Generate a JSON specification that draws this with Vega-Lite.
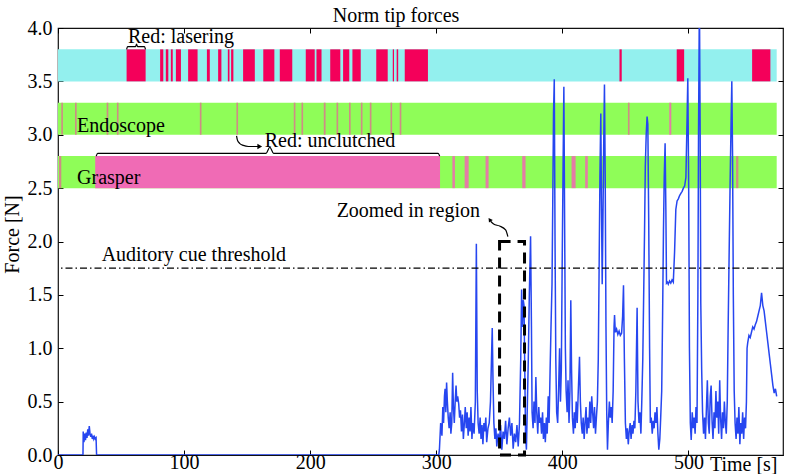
{
  "$schema": "https://vega.github.io/schema/vega-lite/v6.json",
  "width": 725,
  "height": 427,
  "autosize": {"type": "none"},
  "padding": {"left": 58, "top": 28, "right": 3, "bottom": 19},
  "background": "white",
  "config": {"view": {"stroke": "#111", "strokeWidth": 1.2}, "font": "Liberation Serif"},
  "datasets": {
    "segs": [
      {"s": 0, "e": 570, "lo": 3.5, "hi": 3.8, "k": "cyan"},
      {"s": 0, "e": 570, "lo": 3.0, "hi": 3.3, "k": "green"},
      {"s": 0, "e": 570, "lo": 2.5, "hi": 2.8, "k": "green"},
      {"s": 54.4, "e": 69.5, "lo": 3.5, "hi": 3.8, "k": "red"},
      {"s": 81, "e": 83.5, "lo": 3.5, "hi": 3.8, "k": "red"},
      {"s": 85.5, "e": 87.5, "lo": 3.5, "hi": 3.8, "k": "red"},
      {"s": 89.5, "e": 91, "lo": 3.5, "hi": 3.8, "k": "red"},
      {"s": 93.5, "e": 97.5, "lo": 3.5, "hi": 3.8, "k": "red"},
      {"s": 103.2, "e": 110.7, "lo": 3.5, "hi": 3.8, "k": "red"},
      {"s": 118.1, "e": 120.4, "lo": 3.5, "hi": 3.8, "k": "red"},
      {"s": 127, "e": 129.6, "lo": 3.5, "hi": 3.8, "k": "red"},
      {"s": 134.7, "e": 136, "lo": 3.5, "hi": 3.8, "k": "red"},
      {"s": 137.3, "e": 139.1, "lo": 3.5, "hi": 3.8, "k": "red"},
      {"s": 146.8, "e": 156.1, "lo": 3.5, "hi": 3.8, "k": "red"},
      {"s": 162.8, "e": 171.6, "lo": 3.5, "hi": 3.8, "k": "red"},
      {"s": 175.9, "e": 185.8, "lo": 3.5, "hi": 3.8, "k": "red"},
      {"s": 196.5, "e": 203.6, "lo": 3.5, "hi": 3.8, "k": "red"},
      {"s": 205, "e": 209, "lo": 3.5, "hi": 3.8, "k": "red"},
      {"s": 215.9, "e": 223.9, "lo": 3.5, "hi": 3.8, "k": "red"},
      {"s": 226.1, "e": 231, "lo": 3.5, "hi": 3.8, "k": "red"},
      {"s": 233.5, "e": 240.1, "lo": 3.5, "hi": 3.8, "k": "red"},
      {"s": 252.4, "e": 261.5, "lo": 3.5, "hi": 3.8, "k": "red"},
      {"s": 265.5, "e": 266.5, "lo": 3.5, "hi": 3.8, "k": "red"},
      {"s": 268.6, "e": 269.8, "lo": 3.5, "hi": 3.8, "k": "red"},
      {"s": 275, "e": 293.4, "lo": 3.5, "hi": 3.8, "k": "red"},
      {"s": 445.3, "e": 447.1, "lo": 3.5, "hi": 3.8, "k": "red"},
      {"s": 490.7, "e": 496.6, "lo": 3.5, "hi": 3.8, "k": "red"},
      {"s": 550.5, "e": 565, "lo": 3.5, "hi": 3.8, "k": "red"},
      {"s": 2.6, "e": 3.9, "lo": 3.0, "hi": 3.3, "k": "endo"},
      {"s": 13.5, "e": 14.8, "lo": 3.0, "hi": 3.3, "k": "endo"},
      {"s": 38.6, "e": 39.9, "lo": 3.0, "hi": 3.3, "k": "endo"},
      {"s": 46.7, "e": 48.0, "lo": 3.0, "hi": 3.3, "k": "endo"},
      {"s": 112.5, "e": 113.8, "lo": 3.0, "hi": 3.3, "k": "endo"},
      {"s": 141.5, "e": 142.8, "lo": 3.0, "hi": 3.3, "k": "endo"},
      {"s": 187.0, "e": 188.3, "lo": 3.0, "hi": 3.3, "k": "endo"},
      {"s": 193.1, "e": 194.4, "lo": 3.0, "hi": 3.3, "k": "endo"},
      {"s": 210.8, "e": 212.2, "lo": 3.0, "hi": 3.3, "k": "endo"},
      {"s": 220.9, "e": 222.2, "lo": 3.0, "hi": 3.3, "k": "endo"},
      {"s": 230.8, "e": 232.1, "lo": 3.0, "hi": 3.3, "k": "endo"},
      {"s": 240.2, "e": 241.5, "lo": 3.0, "hi": 3.3, "k": "endo"},
      {"s": 247.3, "e": 248.6, "lo": 3.0, "hi": 3.3, "k": "endo"},
      {"s": 263.7, "e": 265.0, "lo": 3.0, "hi": 3.3, "k": "endo"},
      {"s": 271.0, "e": 272.3, "lo": 3.0, "hi": 3.3, "k": "endo"},
      {"s": 452.0, "e": 453.3, "lo": 3.0, "hi": 3.3, "k": "endo"},
      {"s": 484.8, "e": 486.4, "lo": 3.0, "hi": 3.3, "k": "pinkthin"},
      {"s": 0.8, "e": 2.6, "lo": 2.5, "hi": 2.8, "k": "endo"},
      {"s": 29.5, "e": 303, "lo": 2.5, "hi": 2.8, "k": "pink"},
      {"s": 312.8, "e": 314.8, "lo": 2.5, "hi": 2.8, "k": "pinkthin"},
      {"s": 322.5, "e": 325.7, "lo": 2.5, "hi": 2.8, "k": "pinkthin"},
      {"s": 339.1, "e": 341.5, "lo": 2.5, "hi": 2.8, "k": "pinkthin"},
      {"s": 368.2, "e": 370.8, "lo": 2.5, "hi": 2.8, "k": "pinkthin"},
      {"s": 407.3, "e": 410.5, "lo": 2.5, "hi": 2.8, "k": "pinkthin"},
      {"s": 418.1, "e": 420.2, "lo": 2.5, "hi": 2.8, "k": "pinkthin"},
      {"s": 537.8, "e": 539.6, "lo": 2.5, "hi": 2.8, "k": "endo"}
    ],
    "force": [
      {"t":0,"f":0},{"t":19.8,"f":0},{"t":20,"f":0.22},{"t":20.6,"f":0.12},{"t":21.2,"f":0.2},{"t":21.8,"f":0.14},{"t":22.4,"f":0.21},{"t":23,"f":0.16},{"t":23.6,"f":0.24},{"t":24.2,"f":0.18},{"t":24.8,"f":0.27},{"t":25.4,"f":0.2},{"t":26,"f":0.17},{"t":26.6,"f":0.2},{"t":27.2,"f":0.15},{"t":27.8,"f":0.18},{"t":28.4,"f":0.15},{"t":29,"f":0.17},{"t":29.6,"f":0.15},{"t":30.2,"f":0.16},{"t":30.6,"f":0},{"t":302,"f":0},
      {"t":302.5,"f":0.05},{"t":303.5,"f":0.3},{"t":304.5,"f":0.18},{"t":305.2,"f":0.45},{"t":305.8,"f":0.3},{"t":306.5,"f":0.55},{"t":307,"f":0.62},{"t":307.6,"f":0.4},{"t":308.2,"f":0.68},{"t":308.8,"f":0.5},{"t":309.5,"f":0.35},{"t":310.2,"f":0.25},{"t":311,"f":0.4},{"t":311.6,"f":0.2},{"t":312.3,"f":0.3},{"t":313,"f":0.77},{"t":313.6,"f":0.45},{"t":314.3,"f":0.3},{"t":315,"f":0.5},{"t":315.7,"f":0.65},{"t":316.3,"f":0.5},{"t":317,"f":0.55},{"t":317.8,"f":0.48},{"t":318.5,"f":0.35},{"t":319.2,"f":0.42},{"t":320,"f":0.22},{"t":320.8,"f":0.38},{"t":321.5,"f":0.15},{"t":322.3,"f":0.3},{"t":323,"f":0.45},{"t":323.8,"f":0.25},{"t":324.5,"f":0.4},{"t":325.3,"f":0.18},{"t":326,"f":0.35},{"t":326.8,"f":0.22},{"t":327.5,"f":0.45},{"t":328.3,"f":0.15},{"t":329,"f":0.3},{"t":330,"f":0.2},{"t":331,"f":0.5},{"t":331.8,"f":1.98},{"t":332.5,"f":0.6},{"t":333.2,"f":0.3},{"t":334,"f":0.2},{"t":334.8,"f":0.35},{"t":335.5,"f":0.15},{"t":336.3,"f":0.28},{"t":337,"f":0.1},{"t":337.8,"f":0.3},{"t":338.5,"f":0.22},{"t":339.3,"f":0.35},{"t":340,"f":0.12},{"t":341,"f":0.25},{"t":342,"f":0.3},{"t":343,"f":0.5},{"t":343.8,"f":0.9},{"t":344.4,"f":1.19},{"t":345,"f":0.7},{"t":345.7,"f":0.3},{"t":346.5,"f":0.15},{"t":347.3,"f":0.25},{"t":348,"f":0.08},{"t":349,"f":0.2},{"t":350,"f":0.12},{"t":351,"f":0.28},{"t":352,"f":0.05},{"t":353,"f":0.22},{"t":354,"f":0.15},{"t":355,"f":0.32},{"t":356,"f":0.1},{"t":357,"f":0.25},{"t":358,"f":0.35},{"t":359,"f":0.18},{"t":360,"f":0.3},{"t":361,"f":0.06},{"t":362,"f":0.2},{"t":363,"f":0.12},{"t":364,"f":0.28},{"t":365,"f":0.08},{"t":366,"f":0.3},{"t":367,"f":0.9},{"t":367.7,"f":1.55},{"t":368.3,"f":1.2},{"t":369,"f":1.45},{"t":369.6,"f":1.4},{"t":370.2,"f":0.8},{"t":370.8,"f":0.2},{"t":371.5,"f":0.05},{"t":372.3,"f":0.5},{"t":373,"f":0.9},{"t":373.8,"f":1.5},{"t":374.8,"f":2.05},{"t":375.5,"f":1.2},{"t":376,"f":0.4},{"t":376.8,"f":0.25},{"t":377.5,"f":0.5},{"t":378.3,"f":0.3},{"t":379,"f":0.73},{"t":379.7,"f":0.4},{"t":380.5,"f":0.2},{"t":381.3,"f":0.45},{"t":382,"f":0.3},{"t":382.8,"f":0.35},{"t":383.5,"f":0.2},{"t":384.3,"f":0.4},{"t":385,"f":0.15},{"t":385.8,"f":0.3},{"t":386.5,"f":0.12},{"t":387.3,"f":0.35},{"t":388,"f":0.2},{"t":388.8,"f":0.55},{"t":389.5,"f":0.3},{"t":390.3,"f":0.8},{"t":391,"f":1.2},{"t":391.8,"f":1.6},{"t":392.5,"f":2.5},{"t":393,"f":3.2},{"t":393.6,"f":3.52},{"t":394.2,"f":2.0},{"t":394.8,"f":0.9},{"t":395.5,"f":0.4},{"t":396.3,"f":0.3},{"t":397,"f":0.6},{"t":397.8,"f":1.0},{"t":398.5,"f":0.5},{"t":399.2,"f":0.8},{"t":399.8,"f":1.7},{"t":400.5,"f":2.6},{"t":401.2,"f":3.45},{"t":401.8,"f":2.2},{"t":402.4,"f":1.0},{"t":403,"f":0.6},{"t":403.8,"f":0.4},{"t":404.5,"f":0.7},{"t":405.3,"f":0.3},{"t":406,"f":0.6},{"t":406.7,"f":1.45},{"t":407.3,"f":0.8},{"t":408,"f":0.35},{"t":408.8,"f":0.2},{"t":409.5,"f":0.4},{"t":410.2,"f":0.25},{"t":411,"f":0.5},{"t":411.8,"f":0.3},{"t":412.5,"f":0.55},{"t":413.6,"f":0.92},{"t":414.3,"f":0.5},{"t":415,"f":0.3},{"t":415.8,"f":0.2},{"t":416.5,"f":0.35},{"t":417.3,"f":0.15},{"t":418,"f":0.3},{"t":418.8,"f":0.45},{"t":419.5,"f":0.2},{"t":420.3,"f":0.35},{"t":421,"f":0.25},{"t":421.8,"f":0.5},{"t":422.5,"f":0.3},{"t":423.3,"f":0.55},{"t":424,"f":0.4},{"t":424.8,"f":0.25},{"t":425.5,"f":0.45},{"t":426.3,"f":0.2},{"t":427,"f":0.35},{"t":427.8,"f":0.5},{"t":428.5,"f":0.9},{"t":429.2,"f":1.8},{"t":429.8,"f":2.6},{"t":430.5,"f":3.2},{"t":431,"f":2.4},{"t":431.6,"f":1.6},{"t":432.2,"f":2.2},{"t":432.8,"f":2.9},{"t":433.4,"f":3.47},{"t":434,"f":2.6},{"t":434.6,"f":1.2},{"t":435.2,"f":0.4},{"t":435.8,"f":0.05},{"t":436.5,"f":0.3},{"t":437.3,"f":0.5},{"t":438,"f":0.35},{"t":438.8,"f":0.45},{"t":439.5,"f":0.3},{"t":440.3,"f":0.6},{"t":441,"f":1.2},{"t":441.4,"f":1.31},{"t":442,"f":1.15},{"t":443,"f":1.18},{"t":444,"f":1.13},{"t":445,"f":1.16},{"t":446,"f":1.12},{"t":447,"f":1.14},{"t":447.8,"f":1.3},{"t":448.5,"f":1.59},{"t":449.2,"f":0.9},{"t":450,"f":0.3},{"t":450.8,"f":0.15},{"t":451.5,"f":0.25},{"t":452.3,"f":0.1},{"t":453,"f":0.22},{"t":453.8,"f":0.3},{"t":454.5,"f":0.15},{"t":455.3,"f":0.28},{"t":456,"f":0.2},{"t":456.8,"f":0.32},{"t":457.5,"f":0.25},{"t":458.3,"f":0.6},{"t":459.3,"f":1.38},{"t":460,"f":0.5},{"t":460.8,"f":0.3},{"t":461.5,"f":0.4},{"t":462.3,"f":0.2},{"t":463,"f":0.5},{"t":463.8,"f":0.9},{"t":464.5,"f":1.5},{"t":465.2,"f":2.1},{"t":465.8,"f":2.7},{"t":466.5,"f":3.0},{"t":467.2,"f":3.17},{"t":467.8,"f":3.1},{"t":468.5,"f":2.2},{"t":469.2,"f":1.0},{"t":469.8,"f":0.3},{"t":470.5,"f":0.35},{"t":471.3,"f":0.2},{"t":472,"f":0.32},{"t":472.8,"f":0.25},{"t":473.5,"f":0.4},{"t":474.3,"f":0.3},{"t":475,"f":0.45},{"t":475.8,"f":0.2},{"t":476.5,"f":0.05},{"t":477.3,"f":0.15},{"t":478,"f":0.35},{"t":478.8,"f":0.6},{"t":479.5,"f":1.3},{"t":480.2,"f":2.1},{"t":480.8,"f":2.6},{"t":481.5,"f":2.92},{"t":482.1,"f":2.3},{"t":482.6,"f":1.61},{"t":483.3,"f":1.62},{"t":484,"f":1.6},{"t":485,"f":1.63},{"t":486,"f":1.61},{"t":487,"f":1.64},{"t":488,"f":1.62},{"t":489,"f":1.9},{"t":490,"f":2.3},{"t":491,"f":2.38},{"t":492,"f":2.4},{"t":493,"f":2.43},{"t":494,"f":2.45},{"t":495,"f":2.47},{"t":496,"f":2.5},{"t":497,"f":2.52},{"t":498,"f":2.6},{"t":499,"f":3.2},{"t":499.5,"f":3.53},{"t":500.2,"f":2.5},{"t":500.8,"f":1.0},{"t":501.5,"f":0.3},{"t":502.2,"f":0.14},{"t":503,"f":0.4},{"t":503.8,"f":0.25},{"t":504.5,"f":0.35},{"t":505.3,"f":0.2},{"t":506,"f":0.45},{"t":506.8,"f":0.3},{"t":507.5,"f":1.5},{"t":508,"f":3.0},{"t":508.7,"f":4.3},{"t":509.3,"f":3.0},{"t":509.8,"f":1.42},{"t":510.5,"f":0.8},{"t":511.2,"f":0.4},{"t":512,"f":0.2},{"t":512.8,"f":0.35},{"t":513.5,"f":0.15},{"t":514.3,"f":0.45},{"t":515,"f":0.7},{"t":515.8,"f":0.3},{"t":516.5,"f":0.2},{"t":517.3,"f":0.55},{"t":518,"f":0.65},{"t":518.8,"f":0.3},{"t":519.5,"f":0.15},{"t":520.3,"f":0.4},{"t":521,"f":0.25},{"t":521.8,"f":0.6},{"t":522.5,"f":0.35},{"t":523.3,"f":0.5},{"t":524,"f":0.2},{"t":524.8,"f":0.7},{"t":525.5,"f":0.35},{"t":526.3,"f":0.15},{"t":527,"f":0.4},{"t":527.8,"f":0.25},{"t":528.5,"f":0.5},{"t":529.3,"f":0.3},{"t":530,"f":0.2},{"t":530.8,"f":0.5},{"t":531.5,"f":1.2},{"t":532.3,"f":1.9},{"t":533,"f":2.5},{"t":533.8,"f":3.1},{"t":534.4,"f":3.5},{"t":535,"f":2.8},{"t":535.6,"f":1.5},{"t":536.3,"f":0.6},{"t":537,"f":0.3},{"t":537.8,"f":0.15},{"t":538.5,"f":0.35},{"t":539.3,"f":0.2},{"t":540,"f":0.45},{"t":540.8,"f":0.1},{"t":541.5,"f":0.3},{"t":542.3,"f":0.2},{"t":543,"f":0.4},{"t":543.8,"f":0.15},{"t":544.5,"f":0.35},{"t":545.3,"f":0.25},{"t":546,"f":0.5},{"t":546.5,"f":1.0},{"t":547,"f":1.05},{"t":548,"f":1.12},{"t":549,"f":1.1},{"t":550,"f":1.15},{"t":551,"f":1.2},{"t":552,"f":1.18},{"t":553,"f":1.22},{"t":554,"f":1.25},{"t":555,"f":1.3},{"t":556,"f":1.35},{"t":557,"f":1.4},{"t":558,"f":1.52},{"t":559,"f":1.4},{"t":560,"f":1.35},{"t":561,"f":1.25},{"t":562,"f":1.15},{"t":563,"f":1.05},{"t":564,"f":0.95},{"t":565,"f":0.85},{"t":566,"f":0.75},{"t":567,"f":0.65},{"t":568,"f":0.58},{"t":569,"f":0.62},{"t":570,"f":0.55}
    ],
    "notes": [
      {"x": 217.9, "y": 4.058, "label": "Norm tip forces"},
      {"x": 55.5, "y": 3.857, "label": "Red: lasering"},
      {"x": 15.1, "y": 3.03, "label": "Endoscope"},
      {"x": 15.1, "y": 2.536, "label": "Grasper"},
      {"x": 164, "y": 2.882, "label": "Red: unclutched"},
      {"x": 221, "y": 2.232, "label": "Zoomed in region"},
      {"x": 34.6, "y": 1.817, "label": "Auditory cue threshold"}
    ],
    "curves": [
      {"id": "b1", "i": 1, "x": 54.4, "y": 3.8},
      {"id": "b1", "i": 2, "x": 55.2, "y": 3.825},
      {"id": "b1", "i": 3, "x": 61.5, "y": 3.825},
      {"id": "b1", "i": 4, "x": 62.3, "y": 3.85},
      {"id": "b1", "i": 5, "x": 63.1, "y": 3.825},
      {"id": "b1", "i": 6, "x": 68.6, "y": 3.825},
      {"id": "b1", "i": 7, "x": 69.4, "y": 3.8},
      {"id": "b2", "i": 1, "x": 30.3, "y": 2.8},
      {"id": "b2", "i": 2, "x": 31.5, "y": 2.826},
      {"id": "b2", "i": 3, "x": 165, "y": 2.826},
      {"id": "b2", "i": 4, "x": 168, "y": 2.885},
      {"id": "b2", "i": 5, "x": 171, "y": 2.826},
      {"id": "b2", "i": 6, "x": 301.5, "y": 2.826},
      {"id": "b2", "i": 7, "x": 302.7, "y": 2.8},
      {"id": "a1", "i": 1, "x": 141.6, "y": 2.99},
      {"id": "a1", "i": 2, "x": 142.3, "y": 2.95},
      {"id": "a1", "i": 3, "x": 144, "y": 2.92},
      {"id": "a1", "i": 4, "x": 147, "y": 2.9},
      {"id": "a1", "i": 5, "x": 151, "y": 2.89},
      {"id": "a1", "i": 6, "x": 159, "y": 2.89},
      {"id": "a2", "i": 1, "x": 356.8, "y": 2.045},
      {"id": "a2", "i": 2, "x": 355, "y": 2.108},
      {"id": "a2", "i": 3, "x": 350.2, "y": 2.145},
      {"id": "a2", "i": 4, "x": 345.5, "y": 2.164},
      {"id": "a2", "i": 5, "x": 343.1, "y": 2.19}
    ]
  },
  "layer": [
    {
      "data": {"name": "segs"},
      "mark": {"type": "rect"},
      "encoding": {
        "x": {"field": "s", "type": "quantitative", "scale": {"domain": [0, 575], "nice": false, "zero": false},
          "axis": {"orient": "bottom", "values": [0, 100, 200, 300, 400, 500], "title": "Time [s]", "titleX": 719, "titleY": 15, "titleAlign": "right", "titleBaseline": "alphabetic", "titleFont": "Liberation Serif", "titleFontSize": 20, "titleFontWeight": "normal", "titleColor": "black", "labelFont": "Liberation Serif", "labelFontSize": 20, "labelColor": "black", "labelFlush": false, "labelPadding": 2, "tickSize": -5, "tickColor": "black", "domain": false, "grid": false}},
        "x2": {"field": "e"},
        "y": {"field": "lo", "type": "quantitative", "scale": {"domain": [0, 4], "nice": false, "zero": false},
          "axis": {"orient": "left", "values": [0, 0.5, 1, 1.5, 2, 2.5, 3, 3.5, 4], "format": ".1f", "title": "Force [N]", "titleX": -40, "titleY": 206, "titleAngle": -90, "titleAlign": "center", "titleBaseline": "alphabetic", "titleFont": "Liberation Serif", "titleFontSize": 20, "titleFontWeight": "normal", "titleColor": "black", "labelFont": "Liberation Serif", "labelFontSize": 20, "labelColor": "black", "labelFlush": false, "labelPadding": 11, "tickSize": -5, "tickColor": "black", "domain": false, "grid": false}},
        "y2": {"field": "hi"},
        "color": {"field": "k", "type": "nominal", "legend": null,
          "scale": {"domain": ["cyan", "red", "green", "endo", "pink", "pinkthin"], "range": ["#93F0EE", "#F4005A", "#8FFD58", "#CF8C86", "#F06BB5", "#E47CA6"]}}
      }
    },
    {
      "data": {"name": "force"},
      "mark": {"type": "line", "color": "#2646F0", "strokeWidth": 1.5, "clip": true},
      "encoding": {
        "x": {"field": "t", "type": "quantitative", "scale": {"domain": [0, 575], "nice": false, "zero": false},
          "axis": {"orient": "top", "values": [0, 100, 200, 300, 400, 500], "labels": false, "title": null, "tickSize": -5, "tickColor": "black", "domain": false, "grid": false}},
        "y": {"field": "f", "type": "quantitative", "scale": {"domain": [0, 4], "nice": false, "zero": false},
          "axis": {"orient": "right", "values": [0, 0.5, 1, 1.5, 2, 2.5, 3, 3.5, 4], "labels": false, "title": null, "tickSize": -5, "tickColor": "black", "domain": false, "grid": false}}
      }
    },
    {
      "data": {"values": [{"thr": 1.75}]},
      "mark": {"type": "rule", "color": "black", "strokeWidth": 1.3, "strokeDash": [7, 3, 1.5, 3]},
      "encoding": {
        "y": {"field": "thr", "type": "quantitative", "scale": {"domain": [0, 4], "nice": false, "zero": false}, "axis": null}
      }
    },
    {
      "data": {"values": [{"x1": 350.2, "x2": 370, "y1": 0, "y2": 2.0}]},
      "mark": {"type": "rect", "fillOpacity": 0, "stroke": "black", "strokeWidth": 3, "strokeDash": [11, 7]},
      "encoding": {
        "x": {"field": "x1", "type": "quantitative", "scale": {"domain": [0, 575], "nice": false, "zero": false}, "axis": null},
        "x2": {"field": "x2"},
        "y": {"field": "y1", "type": "quantitative", "scale": {"domain": [0, 4], "nice": false, "zero": false}, "axis": null},
        "y2": {"field": "y2"}
      }
    },
    {
      "data": {"name": "notes"},
      "mark": {"type": "text", "align": "left", "baseline": "alphabetic", "font": "Liberation Serif", "fontSize": 20, "color": "black", "clip": false},
      "encoding": {
        "x": {"field": "x", "type": "quantitative", "scale": {"domain": [0, 575], "nice": false, "zero": false}, "axis": null},
        "y": {"field": "y", "type": "quantitative", "scale": {"domain": [0, 4], "nice": false, "zero": false}, "axis": null},
        "text": {"field": "label"}
      }
    },
    {
      "data": {"name": "curves"},
      "mark": {"type": "line", "color": "black", "strokeWidth": 1.2, "interpolate": "monotone"},
      "encoding": {
        "x": {"field": "x", "type": "quantitative", "scale": {"domain": [0, 575], "nice": false, "zero": false}, "axis": null},
        "y": {"field": "y", "type": "quantitative", "scale": {"domain": [0, 4], "nice": false, "zero": false}, "axis": null},
        "detail": {"field": "id"},
        "order": {"field": "i"}
      }
    },
    {
      "data": {"values": [{"x": 160, "y": 2.89}]},
      "mark": {"type": "point", "shape": "triangle-right", "filled": true, "color": "black", "size": 30, "opacity": 1},
      "encoding": {
        "x": {"field": "x", "type": "quantitative", "scale": {"domain": [0, 575], "nice": false, "zero": false}, "axis": null},
        "y": {"field": "y", "type": "quantitative", "scale": {"domain": [0, 4], "nice": false, "zero": false}, "axis": null}
      }
    },
    {
      "data": {"values": [{"x": 342.4, "y": 2.205}]},
      "mark": {"type": "point", "shape": "triangle-up", "angle": -35, "filled": true, "color": "black", "size": 22, "opacity": 1},
      "encoding": {
        "x": {"field": "x", "type": "quantitative", "scale": {"domain": [0, 575], "nice": false, "zero": false}, "axis": null},
        "y": {"field": "y", "type": "quantitative", "scale": {"domain": [0, 4], "nice": false, "zero": false}, "axis": null}
      }
    }
  ],
  "resolve": {"axis": {"x": "independent", "y": "independent"}}
}
